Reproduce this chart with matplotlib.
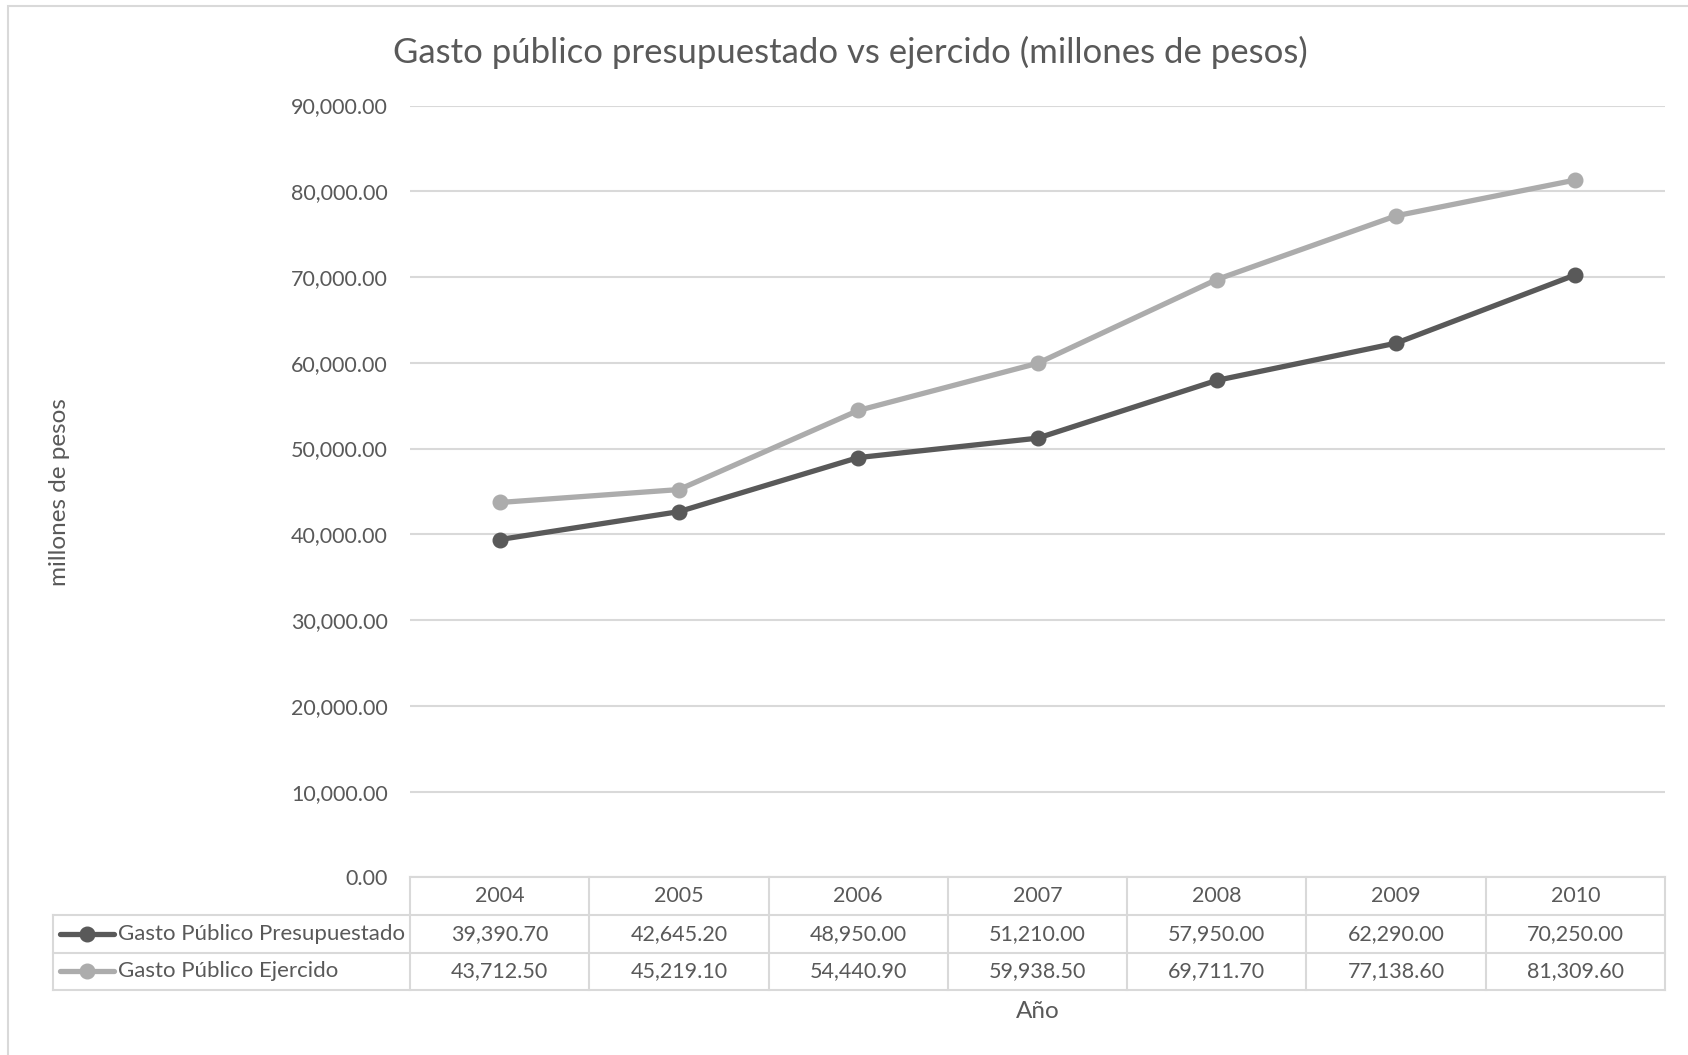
import matplotlib
matplotlib.use("Agg")
import matplotlib.pyplot as plt
from matplotlib.patches import Rectangle
from matplotlib.lines import Line2D

plt.rcParams['font.family'] = ['Lato', 'DejaVu Sans']

years = ["2004", "2005", "2006", "2007", "2008", "2009", "2010"]
presupuestado = [39390.70, 42645.20, 48950.00, 51210.00, 57950.00, 62290.00, 70250.00]
ejercido = [43712.50, 45219.10, 54440.90, 59938.50, 69711.70, 77138.60, 81309.60]
series_names = ["Gasto Público Presupuestado", "Gasto Público Ejercido"]
y_ticks = [0, 10000, 20000, 30000, 40000, 50000, 60000, 70000, 80000, 90000]

TEXT = "#595959"
GRID = "#d9d9d9"
colors = ["#595959", "#acacac"]

W, H = 1688, 1055
fig = plt.figure(figsize=(W / 100, H / 100), dpi=100)

# outer chart frame (only top and left edges fall inside the canvas)
fig.patches.append(Rectangle((8 / W, -0.05), 1.1, 1 - 6 / H + 0.05,
                             transform=fig.transFigure, fill=False,
                             edgecolor=GRID, linewidth=1.5))

left, right = 410 / W, 1665 / W
top, bottom = 1 - 105.5 / H, 1 - 877.4 / H
ax = fig.add_axes([left, bottom, right - left, top - bottom])

x = list(range(len(years)))
for vals, c in zip([presupuestado, ejercido], colors):
    ax.plot(x, vals, color=c, linewidth=3.8, marker="o", markersize=10.5,
            solid_capstyle="round", zorder=3)

ax.set_xlim(-0.5, len(years) - 0.5)
ax.set_ylim(0, 90000)
ax.set_yticks(y_ticks)
ax.set_yticklabels([f"{v:,.2f}" for v in y_ticks], color=TEXT, fontsize=15.5)
ax.tick_params(axis="y", length=0, pad=16)
ax.set_xticks([])
ax.grid(axis="y", color=GRID, linewidth=1.5)
ax.set_axisbelow(True)
for s in ax.spines.values():
    s.set_visible(False)

fig.text(59 / W, 1 - 492 / H, "millones de pesos", rotation=90,
         ha="center", va="center", color=TEXT, fontsize=17.5)

fig.text(850 / W, 1 - 52 / H,
         "Gasto público presupuestado vs ejercido (millones de pesos)",
         ha="center", va="center", color=TEXT, fontsize=25)

# data table under the plot
ax_h = 877.4 - 105.5
row_h = 37.6 / ax_h
lbl_left = (52.7 - 410) / 1255
n = len(years)
colw = 1.0 / n
tr = ax.transAxes
kw = dict(transform=tr, clip_on=False, color=GRID, linewidth=1.5)

# horizontal rules
ax.add_line(Line2D([0, 1], [0, 0], **kw))
for r in (1, 2, 3):
    ax.add_line(Line2D([lbl_left, 1], [-r * row_h, -r * row_h], **kw))
# vertical rules
for i in range(n + 1):
    ax.add_line(Line2D([i * colw, i * colw], [0, -3 * row_h], **kw))
ax.add_line(Line2D([lbl_left, lbl_left], [-row_h, -3 * row_h], **kw))

fs = 15.5
for i, yr in enumerate(years):
    ax.text((i + 0.5) * colw, -0.5 * row_h, yr, transform=tr, ha="center",
            va="center", color=TEXT, fontsize=fs)
for r, vals in enumerate([presupuestado, ejercido]):
    yc = -(r + 1.5) * row_h
    for i, v in enumerate(vals):
        ax.text((i + 0.5) * colw, yc, f"{v:,.2f}", transform=tr, ha="center",
                va="center", color=TEXT, fontsize=fs)

# legend keys inside the table's label column
key_x0 = (60 - 410) / 1255
key_x1 = (114 - 410) / 1255
key_mid = (87 - 410) / 1255
for r, (name, c) in enumerate(zip(series_names, colors)):
    yc = -(r + 1.5) * row_h
    ax.add_line(Line2D([key_x0, key_x1], [yc, yc], transform=tr, clip_on=False,
                       color=c, linewidth=3.8, solid_capstyle="round"))
    ax.add_line(Line2D([key_mid], [yc], transform=tr, clip_on=False,
                       color=c, marker="o", markersize=10.5, linestyle="none"))
    ax.text((118 - 410) / 1255, yc, name, transform=tr, ha="left",
            va="center", color=TEXT, fontsize=16)

fig.text(0.5 * (left + right), 1 - 1012 / H, "Año", ha="center", va="center",
         color=TEXT, fontsize=17.5)

fig.savefig("out.png", dpi=100, facecolor="white")
